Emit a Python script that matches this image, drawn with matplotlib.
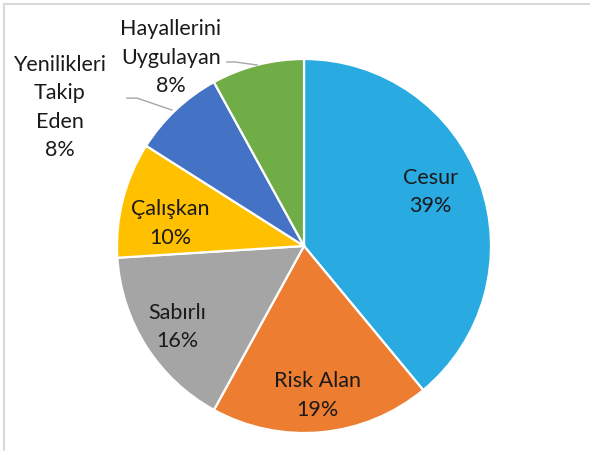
import matplotlib
matplotlib.use("Agg")
import matplotlib.pyplot as plt
import numpy as np

labels = ["Cesur", "Risk Alan", "Sabırlı", "Çalışkan", "Yenilikleri\nTakip\nEden", "Hayallerini\nUygulayan"]
values = [39, 19, 16, 10, 8, 8]
colors = ["#29ABE2", "#ED7D31", "#A5A5A5", "#FFC000", "#4472C4", "#70AD47"]

# label centre positions in units of pie radius
label_pos = [(0.674, 0.290), (0.07, -0.800), (-0.679, -0.432), (-0.717, 0.120),
             (-1.305, 0.740), (-0.711, 1.008)]
leaders = {4: [(-0.947, 0.791), (-0.893, 0.791), (-0.706, 0.727)],
           5: [(-0.412, 0.984), (-0.369, 0.984), (-0.251, 0.968)]}

W, H = 590, 451
fig = plt.figure(figsize=(W / 100, H / 100), dpi=100)
plt.rcParams['font.family'] = ['Lato', 'DejaVu Sans']

cx, cy, R = 304, 246, 187
ax = fig.add_axes([(cx - R) / W, 1 - (cy + R) / H, 2 * R / W, 2 * R / H])
wedges, _ = ax.pie(values, colors=colors, startangle=90, counterclock=False,
                   wedgeprops=dict(edgecolor="white", linewidth=1.6), radius=1.0)
ax.set_aspect('auto')
ax.set_xlim(-1, 1)
ax.set_ylim(-1, 1)
ax.axis('off')

for i, (lab, v) in enumerate(zip(labels, values)):
    x, y = label_pos[i]
    ax.text(x, y, f"{lab}\n{v}%", ha="center", va="center", multialignment="center",
            fontsize=15.5, color="#1a1a1a", linespacing=1.52, clip_on=False)

for i, pts in leaders.items():
    xs, ys = zip(*pts)
    ax.plot(xs, ys, color="#a6a6a6", lw=1.0, clip_on=False)

# light gray frame (top and left visible)
fig.add_artist(plt.Line2D([4 / W, 4 / W], [0, 1 - 4 / H], transform=fig.transFigure, color="#d9d9d9", lw=1.5))
fig.add_artist(plt.Line2D([4 / W, 1], [1 - 4 / H, 1 - 4 / H], transform=fig.transFigure, color="#d9d9d9", lw=1.5))

fig.savefig("out.png", dpi=100)
